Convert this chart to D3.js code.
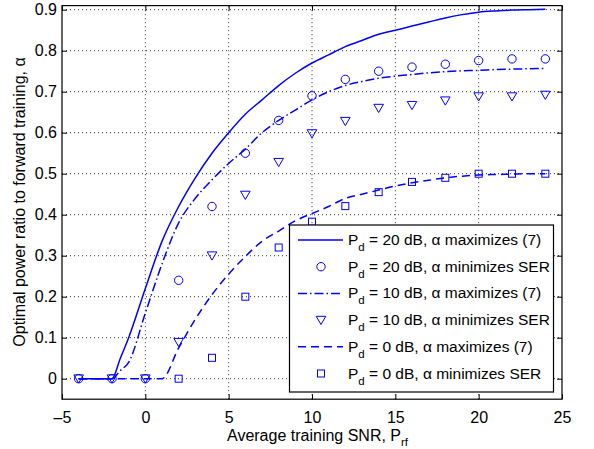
<!DOCTYPE html>
<html>
<head>
<meta charset="utf-8">
<script src="https://cdn.jsdelivr.net/npm/d3@7"></script>
<style>
  body { margin: 0; background: #fff; }
  text { font-family: "Liberation Sans", Arial, sans-serif; }
</style>
</head>
<body>
<script>
// curves: alpha that maximizes (7)
const curveX = [-4, -3, -2, -1.5, -1, 0, 1, 2, 3, 4, 5, 6, 7, 8, 9, 10, 11, 12, 13, 14, 15, 16, 17, 18, 19, 20, 21, 22, 23, 24]
const max20 = [0, 0, 0, 0.05, 0.10, 0.22, 0.335, 0.42, 0.49, 0.55, 0.60, 0.645, 0.68, 0.715, 0.745, 0.77, 0.79, 0.81, 0.825, 0.84, 0.85, 0.86, 0.87, 0.88, 0.888, 0.894, 0.897, 0.899, 0.90, 0.901]
const max10 = [0, 0, 0, 0.02, 0.04, 0.16, 0.28, 0.38, 0.44, 0.485, 0.525, 0.56, 0.60, 0.63, 0.655, 0.68, 0.70, 0.715, 0.725, 0.733, 0.738, 0.742, 0.746, 0.749, 0.751, 0.752, 0.754, 0.755, 0.756, 0.757]
const max0 = [0, 0, 0, 0, 0, 0, 0, 0.075, 0.145, 0.205, 0.255, 0.298, 0.335, 0.36, 0.385, 0.403, 0.42, 0.44, 0.45, 0.46, 0.47, 0.478, 0.484, 0.49, 0.494, 0.497, 0.498, 0.499, 0.50, 0.50]

// markers: alpha that minimizes SER
const markX = [-4, -2, 0, 2, 4, 6, 8, 10, 12, 14, 16, 18, 20, 22, 24]
const min20 = [0, 0, 0, 0.24, 0.42, 0.55, 0.63, 0.69, 0.73, 0.75, 0.76, 0.767, 0.776, 0.78, 0.78]
const min10 = [0, 0, 0, 0.089, 0.30, 0.448, 0.528, 0.598, 0.628, 0.66, 0.667, 0.678, 0.688, 0.688, 0.692]
const sqX = [2, 4, 6, 8, 10, 12, 14, 16, 18, 20, 22, 24]
const min0 = [0, 0.051, 0.20, 0.32, 0.383, 0.421, 0.455, 0.48, 0.49, 0.50, 0.50, 0.50]

const xTicks = [-5, 0, 5, 10, 15, 20, 25]
const yTicks = [0, 0.1, 0.2, 0.3, 0.4, 0.5, 0.6, 0.7, 0.8, 0.9]

const W = 594, H = 449
const blue = '#0000ff'
const x = d3.scaleLinear().domain([-5, 25]).range([62, 562])
const y = d3.scaleLinear().domain([-0.05, 0.91]).range([399.2, 5.6])

const svg = d3.create('svg').attr('width', W).attr('height', H)
svg.append('rect').attr('width', W).attr('height', H).attr('fill', '#fff')

// grid
svg.append('g').selectAll('line').data(xTicks.slice(1, -1)).join('line')
  .attr('x1', d => x(d)).attr('x2', d => x(d)).attr('y1', y.range()[0]).attr('y2', y.range()[1])
  .attr('stroke', '#333').attr('stroke-width', 1).attr('stroke-dasharray', '1,3')
svg.append('g').selectAll('line').data(yTicks).join('line')
  .attr('y1', d => y(d)).attr('y2', d => y(d)).attr('x1', x.range()[0]).attr('x2', x.range()[1])
  .attr('stroke', '#333').attr('stroke-width', 1).attr('stroke-dasharray', '1,3')

// axes, ticks inside on every side
const fmt = d => d < 0 ? '\u2013' + Math.abs(d) : String(d)
svg.append('g').attr('transform', `translate(0,${y.range()[0]})`)
  .call(d3.axisBottom(x).tickValues(xTicks).tickSizeInner(-5).tickSizeOuter(0).tickPadding(12).tickFormat(fmt))
svg.append('g').attr('transform', `translate(0,${y.range()[1]})`)
  .call(d3.axisTop(x).tickValues(xTicks).tickSizeInner(-5).tickSizeOuter(0).tickFormat(''))
svg.append('g').attr('transform', `translate(${x.range()[0]},0)`)
  .call(d3.axisLeft(y).tickValues(yTicks).tickSizeInner(-5).tickSizeOuter(0).tickPadding(5).tickFormat(d => d === 0 ? '0' : d3.format('.1f')(d)))
svg.append('g').attr('transform', `translate(${x.range()[1]},0)`)
  .call(d3.axisRight(y).tickValues(yTicks).tickSizeInner(-5).tickSizeOuter(0).tickFormat(''))
svg.selectAll('.domain').remove()
svg.selectAll('.tick line').attr('stroke', '#000')
svg.selectAll('.tick text').attr('font-size', 16).attr('fill', '#000').attr('font-family', '"Liberation Sans", Arial, sans-serif')

// curves
const line = d3.line().x(d => x(d[0])).y(d => y(d[1])).curve(d3.curveMonotoneX)
const curves = [
  { v: max20, dash: null },
  { v: max10, dash: '9,3,1.5,3' },
  { v: max0, dash: '8,5' }
]
curves.forEach(c => {
  svg.append('path').datum(curveX.map((d, i) => [d, c.v[i]]))
    .attr('d', line).attr('fill', 'none').attr('stroke', blue).attr('stroke-width', 1.5)
    .attr('stroke-dasharray', c.dash)
})

// marker shapes
function marker(g, type, cx, cy) {
  if (type === 'circle') {
    g.append('circle').attr('cx', cx).attr('cy', cy).attr('r', 4.2)
      .attr('fill', 'none').attr('stroke', blue).attr('stroke-width', 1)
  } else if (type === 'tri') {
    g.append('path').attr('d', `M${cx - 4.8},${cy - 3.8}L${cx + 4.8},${cy - 3.8}L${cx},${cy + 4.4}Z`)
      .attr('fill', 'none').attr('stroke', blue).attr('stroke-width', 1)
  } else {
    g.append('rect').attr('x', cx - 3.5).attr('y', cy - 3.5).attr('width', 7).attr('height', 7)
      .attr('fill', 'none').attr('stroke', blue).attr('stroke-width', 1)
  }
}
const mg = svg.append('g')
markX.forEach((d, i) => marker(mg, 'circle', x(d), y(min20[i])))
markX.forEach((d, i) => marker(mg, 'tri', x(d), y(min10[i])))
sqX.forEach((d, i) => marker(mg, 'square', x(d), y(min0[i])))

// frame
svg.append('rect').attr('x', x.range()[0]).attr('y', y.range()[1])
  .attr('width', x.range()[1] - x.range()[0]).attr('height', y.range()[0] - y.range()[1])
  .attr('fill', 'none').attr('stroke', '#000').attr('stroke-width', 1.2)

// axis labels
const xl = svg.append('text').attr('x', 227).attr('y', 441).attr('font-size', 16)
xl.append('tspan').text('Average training SNR, P')
xl.append('tspan').attr('dy', 5).attr('font-size', 11.5).text('rf')

svg.append('text').attr('transform', 'translate(25,202) rotate(-90)')
  .attr('text-anchor', 'middle').attr('font-size', 16)
  .text('Optimal power ratio to forward training, \u03b1')

// legend
const legend = [
  { p: '20', t: '\u03b1 maximizes (7)', dash: '', m: null },
  { p: '20', t: '\u03b1 minimizes SER', dash: null, m: 'circle' },
  { p: '10', t: '\u03b1 maximizes (7)', dash: '9,3,1.5,3', m: null },
  { p: '10', t: '\u03b1 minimizes SER', dash: null, m: 'tri' },
  { p: '0', t: '\u03b1 maximizes (7)', dash: '8,5', m: null },
  { p: '0', t: '\u03b1 minimizes SER', dash: null, m: 'square' }
]
const lg = svg.append('g')
lg.append('rect').attr('x', 289.5).attr('y', 225).attr('width', 264).attr('height', 167)
  .attr('fill', '#fff').attr('stroke', '#000').attr('stroke-width', 1.2)
legend.forEach((e, i) => {
  const cy = 240 + i * 26.7
  if (e.m) {
    marker(lg, e.m, 321, cy)
  } else {
    lg.append('line').attr('x1', 298).attr('x2', 343).attr('y1', cy).attr('y2', cy)
      .attr('stroke', blue).attr('stroke-width', 1.5).attr('stroke-dasharray', e.dash || null)
  }
  const t = lg.append('text').attr('x', 348).attr('y', cy + 5).attr('font-size', 15.5)
  t.append('tspan').text('P')
  t.append('tspan').attr('dy', 6).attr('font-size', 11.5).text('d')
  t.append('tspan').attr('dy', -6).text(` = ${e.p} dB, ${e.t}`)
})

document.body.appendChild(svg.node())
</script>
</body>
</html>
